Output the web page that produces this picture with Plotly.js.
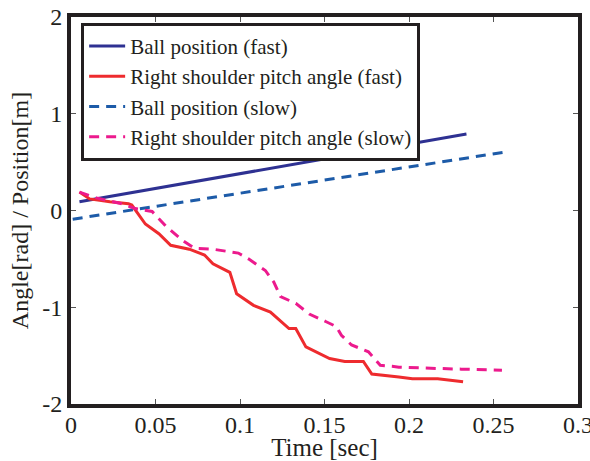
<!DOCTYPE html>
<html><head><meta charset="utf-8">
<script src="https://cdn.plot.ly/plotly-3.0.1.min.js"></script>
<style>html,body{margin:0;padding:0;background:#fff}#chart{width:590px;height:461px}</style>
</head><body><div id="chart"></div>
<script>
const ballFastT = [0.005, 0.234];
const ballFastY = [0.09, 0.79];
const ballSlowT = [0.001, 0.259];
const ballSlowY = [-0.09, 0.61];
const shoulderFastT = [0.005,0.011,0.023,0.034,0.036,0.044,0.052,0.059,0.070,0.079,0.084,0.094,0.098,0.108,0.118,0.129,0.133,0.139,0.153,0.162,0.173,0.178,0.194,0.202,0.217,0.232];
const shoulderFastY = [0.19,0.12,0.09,0.07,0.056,-0.14,-0.24,-0.36,-0.40,-0.46,-0.55,-0.64,-0.86,-0.98,-1.05,-1.22,-1.22,-1.41,-1.53,-1.56,-1.56,-1.69,-1.72,-1.74,-1.74,-1.77];
const shoulderSlowT = [0.005,0.015,0.030,0.038,0.048,0.056,0.066,0.073,0.084,0.099,0.105,0.115,0.120,0.124,0.133,0.141,0.151,0.157,0.160,0.166,0.176,0.183,0.190,0.194,0.231,0.255];
const shoulderSlowY = [0.19,0.13,0.07,0.02,-0.01,-0.16,-0.31,-0.39,-0.40,-0.44,-0.50,-0.62,-0.74,-0.89,-0.96,-1.07,-1.15,-1.20,-1.29,-1.39,-1.46,-1.60,-1.61,-1.62,-1.64,-1.65];

const traces = [
  {x: ballFastT, y: ballFastY, mode:'lines', name:'Ball position (fast)', line:{color:'#2E3192', width:3}},
  {x: shoulderFastT, y: shoulderFastY, mode:'lines', name:'Right shoulder pitch angle (fast)', line:{color:'#EE2B2E', width:3}},
  {x: ballSlowT, y: ballSlowY, mode:'lines', name:'Ball position (slow)', line:{color:'#1D5BA8', width:3, dash:'10px,7px'}},
  {x: shoulderSlowT, y: shoulderSlowY, mode:'lines', name:'Right shoulder pitch angle (slow)', line:{color:'#EC1A8D', width:3, dash:'10px,7px'}}
];
const font = "'Liberation Serif', 'Times New Roman', Times, serif";
const layout = {
  width:590, height:461,
  margin:{l:71, r:12, t:17, b:57},
  paper_bgcolor:'#fff', plot_bgcolor:'#fff',
  font:{family:font, color:'#231f20'},
  showlegend:true,
  legend:{x:0.02, y:0.985, xanchor:'left', yanchor:'top', bgcolor:'#fff', bordercolor:'#231f20', borderwidth:3,
          font:{family:font, size:21, color:'#231f20'}, tracegroupgap:0, itemwidth:36},
  xaxis:{range:[0,0.3], tickvals:[0,0.05,0.1,0.15,0.2,0.25,0.3], ticktext:['0','0.05','0.1','0.15','0.2','0.25','0.3'],
         ticks:'inside', ticklen:5, tickwidth:1, tickcolor:'#555', showgrid:false, zeroline:false,
         showline:true, linecolor:'#231f20', linewidth:4, mirror:'ticks', ticklabeloverflow:'allow', ticklabelstandoff:-4,
         tickfont:{family:font, size:24, color:'#231f20'},
         title:{text:'Time [sec]', font:{family:font, size:25, color:'#231f20'}, standoff:5}},
  yaxis:{range:[-2,2], tickvals:[-2,-1,0,1,2], ticktext:['-2','-1','0','1','2'],
         ticks:'inside', ticklen:5, tickwidth:1, tickcolor:'#555', showgrid:false, zeroline:false,
         showline:true, linecolor:'#231f20', linewidth:4, mirror:'ticks',
         tickfont:{family:font, size:24, color:'#231f20'},
         title:{text:'Angle[rad] / Position[m]', font:{family:font, size:24, color:'#231f20'}, standoff:8}}
};
Plotly.newPlot('chart', traces, layout, {displayModeBar:false, staticPlot:true});
</script></body></html>
